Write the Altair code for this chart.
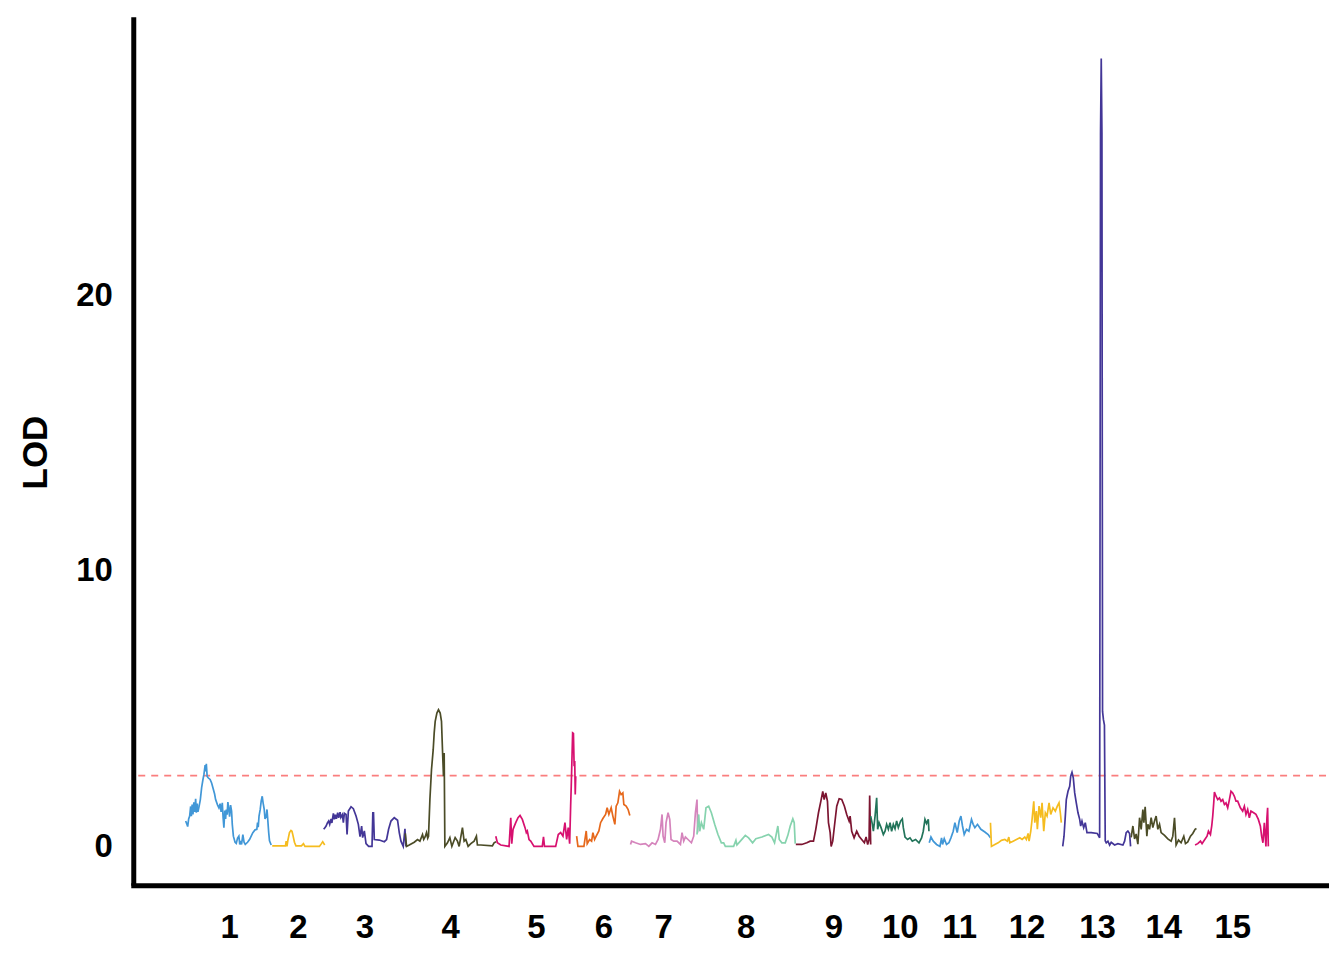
import json
import altair as alt
import pandas as pd

# ---------------- data ----------------
chrom_names = [str(i) for i in range(1, 16)]
chrom_start = [0, 85, 138, 218, 310, 390, 445, 510, 610, 686, 743, 805, 878, 946, 1011]
chrom_end = [85, 138, 218, 310, 390, 445, 510, 610, 686, 743, 805, 878, 946, 1011, 1084]
chrom_colors = ["#4197D7", "#F5BC1F", "#433697", "#4B4C27", "#D7106F",
                "#E6681B", "#D584BC", "#86D3AE", "#7C1531", "#22745A",
                "#4197D7", "#F5BC1F", "#433697", "#4B4C27", "#D7106F"]
threshold = 2.57
y_ticks = [0, 10, 20]

chr1_pos = [-1.0, 0.3, 1.0, 2.0, 3.0, 4.0, 4.7, 5.5, 6.3, 7.2, 8.0, 9.0, 9.7, 10.5, 11.3, 12.5, 13.7, 15.0,
            16.2, 17.3, 18.5, 19.0, 19.7, 20.5, 21.5, 23.5, 25.0, 26.3, 28.0, 29.0, 31.0, 32.3, 33.5, 34.5,
            35.7, 36.5, 37.3, 38.2, 39.0, 39.7, 40.5, 41.3, 42.2, 43.0, 44.0, 45.0, 45.7, 46.8, 48.5, 49.7,
            51.0, 52.3, 53.2, 54.0, 55.0, 56.3, 57.5, 58.7, 61.0, 63.0, 65.0, 66.3, 68.5, 70.3, 71.0, 71.7,
            72.5, 73.7, 74.7, 75.7, 76.5, 77.7, 78.5, 79.7, 80.5, 81.3, 82.2, 83.0, 84.7]
chr1_lod = [0.92, 0.80, 0.72, 1.00, 1.10, 1.45, 1.10, 1.52, 1.16, 1.60, 1.25, 1.73, 1.22, 1.55, 1.25, 1.46, 1.70, 2.13,
            2.40, 2.61, 2.95, 2.72, 3.00, 2.55, 2.49, 2.43, 2.30, 2.13, 1.90, 1.70, 1.50, 1.40, 1.55, 1.25,
            1.58, 1.05, 0.68, 1.30, 1.00, 1.34, 1.15, 1.61, 1.35, 1.08, 1.50, 1.28, 0.80, 0.37, 0.15, 0.11,
            0.30, 0.37, 0.07, 0.20, 0.07, 0.43, 0.15, 0.07, 0.15, 0.25, 0.40, 0.50, 0.60, 0.62, 0.86, 0.70,
            1.10, 1.34, 1.65, 1.82, 1.60, 1.34, 1.00, 1.10, 1.34, 0.95, 0.50, 0.20, 0.05]

chr2_pos = [85.7, 99.0, 99.7, 100.5, 101.3, 103.0, 104.5, 105.5, 106.5, 108.0, 109.5, 115.0, 117.0, 118.5,
            133.0, 135.0, 136.3, 137.5, 138.3]
chr2_lod = [0.02, 0.02, 0.19, 0.00, 0.20, 0.50, 0.58, 0.55, 0.40, 0.15, 0.02, 0.02, 0.10, 0.00,
            0.00, 0.10, 0.17, 0.10, 0.05]

chr3_pos = [137.3, 138.5, 139.7, 141.0, 142.3, 143.3, 144.7, 145.5, 147.0, 148.0, 149.0, 150.0, 151.3, 152.3,
            153.7, 154.5, 156.0, 157.0, 158.0, 159.7, 160.7, 162.0, 164.7, 167.0, 169.7, 172.0, 173.7, 175.3,
            176.3, 178.0, 179.7, 182.3, 185.7, 186.5, 187.2, 188.0, 193.0, 198.0, 200.3, 202.3, 204.7, 208.0,
            211.3, 213.0, 214.7, 217.0, 218.7, 219.7]
chr3_lod = [0.62, 0.68, 0.74, 0.85, 0.92, 0.80, 1.00, 0.85, 1.20, 0.98, 1.15, 1.00, 1.22, 1.04,
            1.24, 1.05, 1.15, 0.86, 1.20, 1.16, 0.43, 1.28, 1.44, 1.37, 1.10, 0.80, 0.35, 0.74,
            0.32, 0.56, 0.10, 0.00, 0.00, 1.22, 1.22, 0.25, 0.23, 0.17, 0.25, 0.62, 0.92, 1.04,
            0.95, 0.50, 0.19, 0.00, 0.64, 0.00]

chr4_pos = [219.0, 220.3, 223.0, 228.0, 231.3, 233.7, 236.3, 237.5, 239.0, 240.3, 241.5, 242.3, 243.7, 245.3,
            247.0, 248.0, 249.0, 250.7, 252.3, 254.0, 255.3, 256.3, 257.3, 258.0, 258.7, 261.3, 263.7, 265.7,
            269.0, 271.3, 273.0, 276.3, 278.0, 279.7, 282.0, 284.7, 288.0, 290.3, 291.3, 294.7, 306.3, 308.0,
            310.0]
chr4_lod = [0.47, 0.00, 0.05, 0.15, 0.25, 0.19, 0.43, 0.25, 0.35, 0.50, 0.30, 0.37, 1.70, 2.79,
            3.51, 4.12, 4.54, 4.84, 4.96, 4.84, 4.54, 3.51, 2.55, 3.39, 0.00, 0.13, 0.32, 0.00,
            0.32, 0.19, 0.00, 0.68, 0.19, 0.25, 0.00, 0.10, 0.19, 0.37, 0.05, 0.05, 0.02, 0.13,
            0.17]

chr5_pos = [309.7, 311.3, 314.7, 323.0, 324.7, 325.7, 327.0, 329.7, 332.0, 334.0, 336.3, 339.0, 340.3, 341.3,
            343.0, 344.7, 348.0, 356.3, 357.5, 358.5, 369.7, 372.3, 374.7, 377.0, 379.0, 380.7, 382.3, 383.7,
            384.7, 385.3, 386.0, 386.7, 387.5, 388.2, 388.8, 389.3, 389.8]
chr5_lod = [0.37, 0.13, 0.05, 0.00, 1.04, 0.10, 0.62, 0.86, 1.04, 1.12, 0.98, 0.68, 0.50, 0.56,
            0.25, 0.19, 0.00, 0.00, 0.35, 0.00, 0.00, 0.43, 0.50, 0.37, 0.86, 0.25, 0.68, 0.10,
            1.46, 2.18, 3.15, 4.12, 4.10, 2.91, 3.10, 1.88, 2.55]

chr6_pos = [390.7, 392.0, 398.0, 400.3, 401.3, 403.7, 405.7, 407.0, 408.7, 410.3, 413.0, 414.7, 417.0, 419.7,
            421.3, 423.0, 425.3, 427.0, 429.0, 430.3, 432.0, 433.7, 435.3, 437.0, 438.0, 440.3, 442.3, 444.0]
chr6_lod = [0.37, 0.00, 0.00, 0.56, 0.10, 0.25, 0.19, 0.50, 0.25, 0.37, 0.56, 0.86, 1.01, 1.16,
            1.40, 1.16, 1.40, 1.10, 0.80, 1.46, 1.58, 2.00, 1.88, 1.94, 1.52, 1.46, 1.34, 1.12]

chr7_pos = [444.7, 445.7, 449.7, 454.7, 459.7, 463.0, 466.3, 469.7, 472.3, 474.7, 476.3, 477.3, 479.0, 480.3,
            482.3, 484.0, 485.3, 488.0, 491.3, 494.7, 496.3, 498.0, 499.7, 502.3, 505.7, 508.0, 509.7, 511.3,
            512.0]
chr7_lod = [0.07, 0.19, 0.13, 0.07, 0.10, 0.00, 0.13, 0.07, 0.25, 0.62, 1.16, 0.37, 0.13, 0.86,
            1.22, 0.98, 0.25, 0.19, 0.19, 0.07, 0.50, 0.19, 0.34, 0.25, 0.13, 0.37, 1.22, 1.70,
            0.50]

chr8_pos = [511.3, 513.0, 514.0, 515.7, 518.0, 520.3, 523.0, 525.7, 529.0, 532.3, 535.7, 538.0, 539.7, 548.0,
            550.3, 551.3, 554.7, 559.7, 563.0, 567.0, 570.3, 576.3, 583.0, 586.3, 589.0, 592.3, 593.7, 596.3,
            599.7, 602.3, 604.7, 607.3, 608.7, 609.7]
chr8_lod = [0.43, 1.16, 0.55, 0.86, 0.62, 1.40, 1.46, 1.22, 0.80, 0.43, 0.13, 0.13, 0.00, 0.00,
            0.22, 0.05, 0.19, 0.40, 0.31, 0.13, 0.28, 0.34, 0.43, 0.34, 0.13, 0.74, 0.25, 0.13,
            0.13, 0.40, 0.74, 1.00, 0.86, 0.10]

chr9_pos = [610.3, 616.3, 621.3, 624.7, 628.0, 630.3, 633.0, 635.7, 637.3, 638.7, 640.3, 642.0, 643.0, 644.7,
            645.7, 647.3, 649.0, 651.3, 653.7, 656.3, 659.0, 661.3, 663.7, 664.7, 666.3, 668.7, 671.3, 673.7,
            676.3, 679.0, 680.7, 682.3, 683.7, 684.3, 685.3]
chr9_lod = [0.07, 0.07, 0.13, 0.19, 0.19, 0.62, 1.22, 1.70, 2.00, 1.70, 1.94, 1.64, 0.86, 0.50,
            0.00, 0.19, 0.74, 1.46, 1.73, 1.70, 1.46, 1.16, 0.92, 1.10, 0.55, 0.31, 0.55, 0.37,
            0.25, 0.13, 0.34, 0.07, 0.25, 1.85, 0.07]

chr10_pos = [685.3, 687.0, 688.0, 689.7, 691.3, 692.3, 693.7, 695.7, 698.0, 699.7, 701.3, 703.0, 704.7, 706.3,
             708.0, 709.7, 711.3, 713.0, 715.3, 717.0, 718.0, 719.7, 722.3, 724.7, 727.0, 730.3, 733.7, 736.3,
             738.0, 739.7, 741.3, 743.0, 743.7]
chr10_lod = [1.10, 0.80, 0.55, 1.10, 1.76, 0.62, 0.86, 0.68, 0.43, 0.55, 0.80, 0.62, 0.86, 0.55,
             0.80, 0.64, 0.92, 0.68, 0.92, 1.00, 0.68, 0.34, 0.25, 0.31, 0.19, 0.25, 0.13, 0.31,
             0.55, 0.98, 0.83, 0.98, 0.55]

chr11_pos = [744.0, 745.7, 748.0, 751.3, 754.7, 756.3, 757.3, 759.0, 761.3, 763.7, 765.7, 768.0, 769.7, 772.0,
             774.0, 775.7, 777.3, 779.0, 781.3, 783.7, 786.3, 788.0, 789.7, 792.3, 795.7, 799.7, 803.0, 805.3]
chr11_lod = [0.13, 0.34, 0.19, 0.07, 0.00, 0.31, 0.07, 0.28, 0.07, 0.13, 0.31, 0.55, 0.86, 0.50,
             0.92, 1.10, 0.74, 0.43, 0.62, 0.55, 0.98, 0.80, 0.68, 0.80, 0.62, 0.52, 0.43, 0.31]

chr12_pos = [805.3, 806.3, 809.7, 813.0, 816.3, 819.7, 822.3, 823.7, 824.7, 828.0, 831.3, 834.7, 837.0, 839.7,
             841.3, 843.0, 844.0, 845.7, 847.0, 848.7, 849.7, 851.3, 852.3, 854.0, 855.7, 857.0, 858.7, 860.3,
             862.0, 864.0, 865.7, 868.0, 870.3, 872.3, 874.0, 875.3, 876.3]
chr12_lod = [0.86, 0.00, 0.07, 0.13, 0.22, 0.25, 0.19, 0.34, 0.13, 0.19, 0.25, 0.31, 0.25, 0.34,
             0.25, 0.47, 0.19, 0.55, 0.98, 1.64, 0.86, 1.28, 0.62, 1.46, 1.04, 1.58, 0.55, 1.22,
             1.10, 1.58, 1.16, 1.40, 1.28, 1.46, 1.58, 1.22, 0.86]

chr13_pos = [877.7, 879.0, 880.3, 881.3, 883.0, 884.7, 885.7, 887.0, 888.3, 889.7, 891.3, 893.0, 894.7, 895.7,
             897.0, 898.7, 900.3, 902.0, 906.3, 912.3, 914.7, 915.6, 916.3, 917.0, 917.6, 918.5, 919.5, 920.3,
             921.3, 923.0, 924.7, 926.3, 929.7, 933.0, 938.0, 939.7, 941.3, 943.0, 944.7, 945.7]
chr13_lod = [0.00, 0.37, 1.10, 1.70, 2.00, 2.18, 2.55, 2.69, 2.49, 1.94, 1.58, 1.22, 0.98, 0.74,
             0.92, 0.68, 0.86, 0.50, 0.50, 0.47, 0.31, 25.9, 28.6, 25.9, 4.90, 4.60, 4.40, 0.20,
             0.13, 0.19, 0.05, 0.15, 0.05, 0.10, 0.05, 0.19, 0.50, 0.56, 0.47, 0.00]

chr14_pos = [946.3, 948.0, 949.7, 951.3, 953.0, 954.7, 956.3, 958.0, 959.0, 960.3, 962.0, 963.0, 964.7, 966.3,
             968.0, 969.7, 971.3, 973.0, 974.7, 976.3, 979.7, 983.0, 986.3, 988.0, 989.7, 991.3, 993.7, 996.3,
             999.0, 1000.7, 1003.0, 1005.7, 1008.0, 1010.3, 1011.7]
chr14_lod = [0.33, 0.74, 0.27, 0.45, 0.08, 1.04, 0.62, 1.34, 0.86, 1.44, 0.37, 0.80, 0.62, 1.04,
             0.68, 0.92, 1.10, 0.62, 0.80, 0.50, 0.40, 0.27, 0.19, 0.37, 1.04, 0.05, 0.23, 0.13,
             0.37, 0.10, 0.16, 0.37, 0.47, 0.62, 0.65]

chr15_pos = [1010.3, 1013.0, 1015.7, 1017.3, 1019.7, 1022.3, 1023.7, 1025.7, 1027.0, 1028.0, 1029.0, 1029.7,
             1031.3, 1033.0, 1034.7, 1036.3, 1038.0, 1039.7, 1041.3, 1043.0, 1044.7, 1046.3, 1048.0, 1049.7,
             1051.3, 1053.0, 1055.7, 1058.0, 1059.7, 1061.3, 1063.0, 1064.7, 1066.3, 1069.0, 1071.3, 1073.7,
             1075.7, 1077.0, 1078.3, 1079.7, 1081.3, 1082.3, 1083.0, 1083.7]
chr15_lod = [0.05, 0.10, 0.19, 0.10, 0.23, 0.37, 0.55, 0.43, 0.74, 1.10, 1.58, 1.97,
             1.82, 1.70, 1.76, 1.64, 1.70, 1.52, 1.58, 1.40, 1.70, 2.00, 1.94, 1.82,
             1.64, 1.64, 1.40, 1.28, 1.46, 1.16, 1.34, 1.04, 1.28, 1.22, 1.16, 0.98,
             0.74, 0.37, 0.13, 0.86, 0.00, 1.04, 1.40, 0.00]

all_pos = [chr1_pos, chr2_pos, chr3_pos, chr4_pos, chr5_pos, chr6_pos, chr7_pos, chr8_pos,
           chr9_pos, chr10_pos, chr11_pos, chr12_pos, chr13_pos, chr14_pos, chr15_pos]
all_lod = [chr1_lod, chr2_lod, chr3_lod, chr4_lod, chr5_lod, chr6_lod, chr7_lod, chr8_lod,
           chr9_lod, chr10_lod, chr11_lod, chr12_lod, chr13_lod, chr14_lod, chr15_lod]

rows = []
for name, ps, ls in zip(chrom_names, all_pos, all_lod):
    for i, (p, l) in enumerate(zip(ps, ls)):
        rows.append({"chrom": name, "pos": p, "lod": l, "idx": i})
df = pd.DataFrame(rows)

mids = [(s + e) / 2 for s, e in zip(chrom_start, chrom_end)]
label_expr = "%s[indexof(%s, datum.value)]" % (json.dumps(chrom_names), json.dumps(mids))

FONT = "Liberation Sans"
x_scale = alt.Scale(domain=[-53.5, 1141.5], nice=False, zero=False)
y_scale = alt.Scale(domain=[-1.41, 30.11], nice=False, zero=False)

x_axis = alt.Axis(values=mids, labelExpr=label_expr, title=None, grid=False, ticks=False, tickSize=0,
                  domain=True, domainColor="black", domainWidth=5, domainCap="square",
                  labelFont=FONT, labelFontWeight="bold", labelFontSize=33, labelColor="black",
                  labelPadding=26, labelOverlap=False, labelFlush=False)
y_axis = alt.Axis(values=y_ticks, title="LOD", grid=False, ticks=False, tickSize=0,
                  domain=True, domainColor="black", domainWidth=5,
                  labelFont=FONT, labelFontWeight="bold", labelFontSize=33, labelColor="black",
                  labelPadding=21, labelOverlap=False,
                  titleFont=FONT, titleFontWeight="bold", titleFontSize=35, titleColor="black",
                  titleAngle=270, titleX=-98, titleY=436, titleAlign="center", titleBaseline="middle")

lines = alt.Chart(df).mark_line(strokeWidth=1.7, interpolate="linear").encode(
    x=alt.X("pos:Q", scale=x_scale, axis=x_axis),
    y=alt.Y("lod:Q", scale=y_scale, axis=y_axis),
    color=alt.Color("chrom:N", scale=alt.Scale(domain=chrom_names, range=chrom_colors), legend=None),
    order="idx:Q",
)

thr = alt.Chart(pd.DataFrame({"lod": [threshold]})).mark_rule(
    color="#FA7E7E", strokeDash=[7, 6], strokeWidth=1.8
).encode(y=alt.Y("lod:Q", scale=y_scale))

chart = alt.layer(thr, lines).properties(
    width=1195, height=870,
    autosize=alt.AutoSizeParams(type="none"),
    padding={"left": 125.5, "top": 8, "right": 10, "bottom": 60},
    background="white",
).configure_view(strokeWidth=0, stroke=None)

chart.save("out.html", embed_options={"renderer": "svg", "actions": False})
